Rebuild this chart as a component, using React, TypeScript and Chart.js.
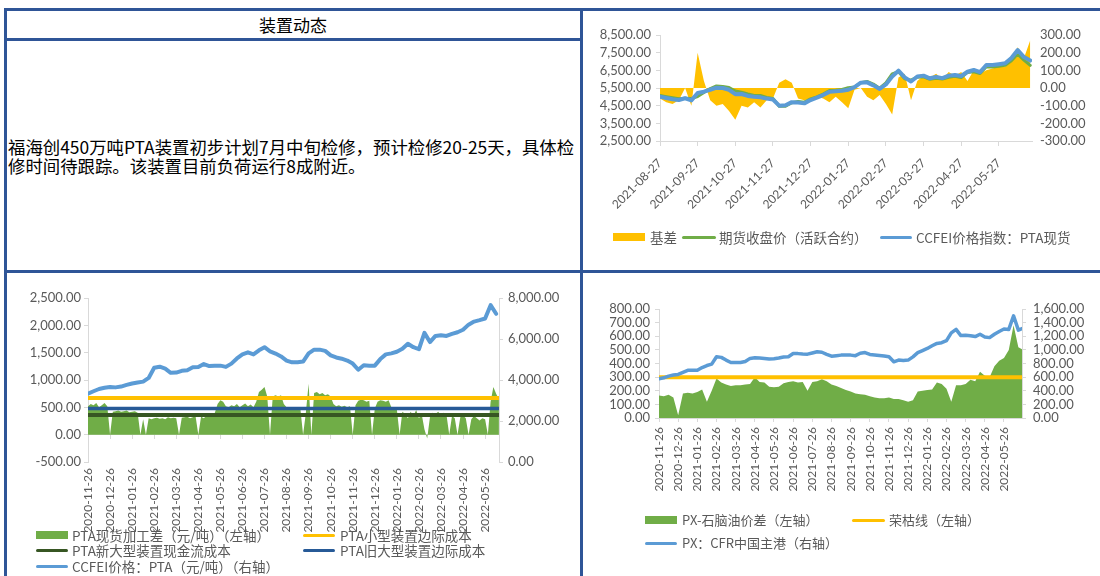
import React, { useEffect, useRef } from "react";
import { Chart, registerables } from "chart.js";

Chart.register(...registerables);

const NUM_FONT = "Lato, 'Noto Sans CJK SC', sans-serif";
const CJK_FONT = "'Noto Sans CJK SC', 'Noto Sans', sans-serif";
const BORDER_BLUE = "#2F5597";
const TICK_COLOR = "#595959";
const AXIS_COLOR = "#D9D9D9";
const C_BLUE = "#5B9BD5";
const C_GREEN = "#70AD47";
const C_YELLOW = "#FFC000";
const C_DKGREEN = "#375623";
const C_DKBLUE = "#275A97";

// ---------- Top-right chart: 基差 ----------
const trMonthLabels = [
  "2021-08-27", "2021-09-27", "2021-10-27", "2021-11-27", "2021-12-27",
  "2022-01-27", "2022-02-27", "2022-03-27", "2022-04-27", "2022-05-27",
];
const trPerMonth = 6;
const trMaxMonth = 9.88;
const trSpot = [
  5010, 4930, 4860, 4820, 4920, 4800, 5220, 5290, 5400, 5520,
  5500, 5400, 5150, 5160, 5050, 5000, 4970, 4900, 4850, 4500,
  4520, 4700, 4680, 4630, 4820, 4950, 5100, 5280, 5320, 5340,
  5400, 5550, 5800, 5820, 5650, 5450, 5700, 6150, 6480, 6100,
  5870, 6150, 6200, 6050, 6130, 6060, 6200, 6240, 6180, 6420,
  6520, 6400, 6800, 6800, 6850, 6900, 7200, 7650, 7250, 7050,
];
const trFutures = [
  5070, 5010, 4950, 4890, 4920, 4900, 5020, 5250, 5470, 5620,
  5590, 5530, 5330, 5260, 5160, 5080, 5080, 4970, 4910, 4470,
  4470, 4670, 4740, 4700, 4880, 5000, 5160, 5360, 5370, 5420,
  5515, 5560, 5800, 5870, 5720, 5490, 5790, 6300, 6420, 6020,
  5940, 6110, 6130, 5990, 6050, 6010, 6110, 6170, 6090, 6380,
  6420, 6320, 6700, 6690, 6730, 6780, 7040, 7420, 7080, 6780,
];
const trBasis = [
  -60, -80, -90, -70, 0, -100, 200, 40, -70, -100,
  -90, -130, -180, -100, -110, -80, -110, -70, -60, 30,
  50, 30, -60, -70, -60, -50, -60, -80, -50, -80,
  -115, -10, 0, -50, -70, -40, -90, -150, 60, 80,
  -70, 40, 70, 60, 80, 50, 90, 70, 90, 40,
  100, 80, 100, 110, 120, 120, 160, 230, 170, 270,
];

// ---------- Bottom-left chart: PTA 加工差 ----------
const blMonthLabels = [
  "2020-11-26", "2020-12-26", "2021-01-26", "2021-02-26", "2021-03-26",
  "2021-04-26", "2021-05-26", "2021-06-26", "2021-07-26", "2021-08-26",
  "2021-09-26", "2021-10-26", "2021-11-26", "2021-12-26", "2022-01-26",
  "2022-02-26", "2022-03-26", "2022-04-26", "2022-05-26",
];
const blSpreadPerMonth = 8;
const blPricePerMonth = 4;
const blMaxMonth = 18.63;
const blSpread = [
  520, 560, 540, 580, 500, 540, 580, 520, 0, 420,
  430, 440, 420, 430, 440, 410, 420, 430, 400, 0,
  280, 0, 300, 280, 300, 310, 290, 300, 280, 320,
  300, 310, 300, 0, 310, 320, 330, 300, 320, 340,
  0, 330, 300, 350, 330, 360, 400, 560, 630, 600,
  520, 500, 540, 520, 560, 500, 540, 570, 520, 550,
  500, 600, 780, 820, 870, 700, 0, 700, 720, 700,
  720, 560, 500, 480, 470, 480, 460, 480, 0, 400,
  930, 0, 760, 780, 740, 760, 720, 740, 700, 560,
  520, 540, 510, 530, 500, 520, 0, 540, 620, 640,
  630, 600, 620, 0, 480, 600, 630, 620, 600, 630,
  500, 480, 460, 0, 420, 380, 300, 420, 340, 450,
  300, 380, 100, -70, 320, 400, 380, 420, 350, 400,
  360, 0, 340, 300, 0, 320, 350, 300, 0, 280,
  340, 300, 260, 300, 280, 0, 600, 870, 750, 650,
];
const blPrice = [
  3337, 3450, 3560, 3620, 3660, 3640, 3680, 3760, 3830, 3880,
  3920, 4100, 4600, 4650, 4550, 4350, 4360, 4450, 4480, 4620,
  4630, 4780, 4680, 4700, 4700, 4640, 4800, 5050, 5250, 5350,
  5250, 5450, 5600, 5400, 5290, 5150, 4950, 4860, 4870, 4900,
  5300, 5480, 5480, 5420, 5200, 5100, 5040, 4950, 4800, 4500,
  4720, 4700, 4700, 5020, 5250, 5300, 5380, 5520, 5770, 5600,
  5500, 6300, 5850, 6150, 6180, 6150, 6250, 6330, 6450, 6700,
  6850, 6920, 7000, 7650, 7230,
];
const blSmallCost = 670;
const blOldLargeCost = 480;
const blNewLargeCost = 360;

// ---------- Bottom-right chart: PX ----------
const brMonthLabels = blMonthLabels;
const brPerMonth = 4;
const brMaxMonth = 18.94;
const brPx = [
  575, 590, 615, 630, 640, 670, 700, 700, 700, 740,
  770, 790, 900, 890, 850, 815, 815, 815, 830, 875,
  884, 880, 874, 866, 870, 880, 895, 900, 947, 945,
  940, 937, 955, 972, 965, 935, 908, 915, 923, 923,
  923, 915, 950, 960, 933, 925, 918, 910, 898, 825,
  850, 845, 850, 898, 960, 990, 1021, 1060, 1095, 1105,
  1135, 1250, 1300, 1210, 1215, 1208, 1195, 1230, 1190, 1180,
  1230, 1270, 1306, 1300, 1500, 1290, 1320,
];
const brSpread = [
  165, 160, 170, 150, 20, 180, 185, 180, 190, 210,
  120, 200, 290, 260, 245, 235, 240, 240, 245, 250,
  300, 265, 260, 230, 225, 230, 255, 265, 270, 260,
  265, 200, 265, 270, 285, 270, 245, 235, 220, 205,
  195, 180, 175, 170, 160, 150, 145, 145, 150, 140,
  140, 130, 120, 130, 195, 200, 205, 210, 260, 250,
  215, 120, 240, 240, 250, 280, 270, 340, 310, 300,
  380, 420, 440, 500, 680, 520, 500,
];
const brBoomBust = 300;

// ---------- helpers ----------
const fmt2 = (v: any) =>
  Number(v).toLocaleString("en-US", { minimumFractionDigits: 2, maximumFractionDigits: 2 });
const toXY = (values: number[], perMonth: number) =>
  values.map((y, i) => ({ x: i / perMonth, y }));
const flat = (value: number, max: number) => [
  { x: 0, y: value },
  { x: max, y: value },
];

function monthAxis(labels: string[], max: number, extra: any) {
  return {
    type: "linear",
    min: 0,
    max,
    afterBuildTicks: (s: any) => {
      s.ticks = labels.map((_, i) => ({ value: i }));
    },
    ...extra,
    ticks: {
      autoSkip: false,
      font: { family: NUM_FONT, size: 12 },
      color: TICK_COLOR,
      callback: (v: any) => labels[Math.round(v)] ?? "",
      ...(extra.ticks || {}),
    },
  };
}

function yAxis(position: string, min: number, max: number, step: number, width: number, opts: any) {
  return {
    position,
    min,
    max,
    ticks: {
      stepSize: step,
      autoSkip: false,
      padding: opts.padding,
      callback: fmt2,
      font: { family: NUM_FONT, size: 13 },
      color: TICK_COLOR,
    },
    grid: {
      display: opts.ticks,
      drawOnChartArea: false,
      drawTicks: opts.ticks,
      tickLength: 4,
      color: AXIS_COLOR,
    },
    border: { display: opts.border, color: AXIS_COLOR },
    afterFit: (s: any) => {
      s.width = width;
    },
  };
}

const baseOptions = (padTop: number) => ({
  animation: false,
  responsive: true,
  maintainAspectRatio: false,
  layout: { padding: { top: padTop, left: 0, right: 0, bottom: 0 } },
  elements: {
    point: { radius: 0, hoverRadius: 0 },
    line: { tension: 0, borderJoinStyle: "round", borderCapStyle: "round" },
  },
  plugins: { legend: { display: false }, tooltip: { enabled: false } },
});

function trConfig(): any {
  return {
    type: "line",
    data: {
      datasets: [
        { label: "CCFEI价格指数：PTA现货", data: toXY(trSpot, trPerMonth), xAxisID: "x", yAxisID: "y", borderColor: C_BLUE, borderWidth: 4, order: 0 },
        { label: "期货收盘价（活跃合约）", data: toXY(trFutures, trPerMonth), xAxisID: "x", yAxisID: "y", borderColor: C_GREEN, borderWidth: 3, order: 1 },
        { label: "基差", data: toXY(trBasis, trPerMonth), xAxisID: "x", yAxisID: "y1", borderColor: "rgba(0,0,0,0)", borderWidth: 0, backgroundColor: C_YELLOW, fill: "origin", order: 2 },
      ],
    },
    options: {
      ...baseOptions(24),
      scales: {
        x: monthAxis(trMonthLabels, trMaxMonth, {
          position: "bottom",
          grid: { drawOnChartArea: false, drawTicks: true, tickLength: 5, color: AXIS_COLOR },
          border: { display: true, color: AXIS_COLOR },
          ticks: { minRotation: 45, maxRotation: 45, padding: 10 },
          afterFit: (s: any) => { s.height = 127; },
        }),
        y: yAxis("left", 2500, 8500, 1000, 77, { padding: 5, ticks: true, border: true }),
        y1: yAxis("right", -300, 300, 100, 68, { padding: 8, ticks: false, border: false }),
      },
    },
  };
}

function blConfig(): any {
  return {
    type: "line",
    data: {
      datasets: [
        { label: "CCFEI价格：PTA（元/吨）（右轴）", data: toXY(blPrice, blPricePerMonth), xAxisID: "x", yAxisID: "y1", borderColor: C_BLUE, borderWidth: 4, order: 0 },
        { label: "PTA小型装置边际成本", data: flat(blSmallCost, blMaxMonth), xAxisID: "x", yAxisID: "y", borderColor: C_YELLOW, borderWidth: 4, borderCapStyle: "butt", order: 1 },
        { label: "PTA旧大型装置边际成本", data: flat(blOldLargeCost, blMaxMonth), xAxisID: "x", yAxisID: "y", borderColor: C_DKBLUE, borderWidth: 3.5, borderCapStyle: "butt", order: 2 },
        { label: "PTA新大型装置现金流成本", data: flat(blNewLargeCost, blMaxMonth), xAxisID: "x", yAxisID: "y", borderColor: C_DKGREEN, borderWidth: 4, borderCapStyle: "butt", order: 3 },
        { label: "PTA现货加工差（元/吨）（左轴）", data: toXY(blSpread, blSpreadPerMonth), xAxisID: "x", yAxisID: "y", borderColor: "rgba(0,0,0,0)", borderWidth: 0, backgroundColor: C_GREEN, fill: "origin", order: 4 },
      ],
    },
    options: {
      ...baseOptions(26),
      scales: {
        x: monthAxis(blMonthLabels, blMaxMonth, {
          position: "bottom",
          grid: { display: false, drawTicks: false },
          border: { display: false },
          ticks: { minRotation: 90, maxRotation: 90, padding: 6 },
          afterFit: (s: any) => { s.height = 114; },
        }),
        x2: monthAxis(blMonthLabels, blMaxMonth, {
          position: { y: 0 },
          grid: { drawOnChartArea: false, drawTicks: true, tickLength: 4, color: AXIS_COLOR },
          border: { display: true, color: AXIS_COLOR },
          ticks: { display: false },
        }),
        y: yAxis("left", -500, 2500, 500, 81, { padding: 3, ticks: true, border: true }),
        y1: yAxis("right", 0, 8000, 2000, 81, { padding: 5, ticks: true, border: true }),
      },
    },
  };
}

function brConfig(): any {
  return {
    type: "line",
    data: {
      datasets: [
        { label: "PX：CFR中国主港（右轴）", data: toXY(brPx, brPerMonth), xAxisID: "x", yAxisID: "y1", borderColor: C_BLUE, borderWidth: 3.5, order: 0 },
        { label: "荣枯线（左轴）", data: flat(brBoomBust, brMaxMonth), xAxisID: "x", yAxisID: "y", borderColor: C_YELLOW, borderWidth: 4, borderCapStyle: "butt", order: 1 },
        { label: "PX-石脑油价差（左轴）", data: toXY(brSpread, brPerMonth), xAxisID: "x", yAxisID: "y", borderColor: "rgba(0,0,0,0)", borderWidth: 0, backgroundColor: C_GREEN, fill: "origin", order: 2 },
      ],
    },
    options: {
      ...baseOptions(37),
      scales: {
        x: monthAxis(brMonthLabels, brMaxMonth, {
          position: "bottom",
          grid: { drawOnChartArea: false, drawTicks: true, tickLength: 4, color: AXIS_COLOR },
          border: { display: true, color: AXIS_COLOR },
          ticks: { minRotation: 90, maxRotation: 90, padding: 5 },
          afterFit: (s: any) => { s.height = 158; },
        }),
        y: yAxis("left", 0, 800, 100, 76, { padding: 5, ticks: true, border: true }),
        y1: yAxis("right", 0, 1600, 200, 78, { padding: 7, ticks: true, border: true }),
      },
    },
  };
}

function ChartBox(props: { left: number; top: number; width: number; height: number; config: () => any }) {
  const ref = useRef<HTMLCanvasElement>(null);
  useEffect(() => {
    const chart = new Chart(ref.current as HTMLCanvasElement, props.config());
    return () => chart.destroy();
  }, []);
  return (
    <div style={{ position: "absolute", left: props.left, top: props.top, width: props.width, height: props.height }}>
      <canvas ref={ref} />
    </div>
  );
}

type LegendItem = { kind: "box" | "line"; color: string; x: number; y: number; w: number; text: string; tx: number };

function Legend({ items, size }: { items: LegendItem[]; size: number }) {
  return (
    <>
      {items.map((it, i) => (
        <React.Fragment key={i}>
          <div
            style={{
              position: "absolute",
              left: it.x,
              top: it.kind === "box" ? it.y - 4 : it.y - 1.5,
              width: it.w,
              height: it.kind === "box" ? 8 : 3,
              background: it.color,
              borderRadius: it.kind === "line" ? 1.5 : 0,
            }}
          />
          <div
            style={{
              position: "absolute",
              left: it.tx,
              top: it.y - 10,
              height: 20,
              lineHeight: "20px",
              fontFamily: CJK_FONT,
              fontSize: size,
              color: TICK_COLOR,
              whiteSpace: "nowrap",
            }}
          >
            {it.text}
          </div>
        </React.Fragment>
      ))}
    </>
  );
}

const trLegend: LegendItem[] = [
  { kind: "box", color: C_YELLOW, x: 613, y: 237, w: 32, text: "基差", tx: 650 },
  { kind: "line", color: C_GREEN, x: 682, y: 237, w: 34, text: "期货收盘价（活跃合约）", tx: 719 },
  { kind: "line", color: C_BLUE, x: 880, y: 237, w: 32, text: "CCFEI价格指数：PTA现货", tx: 916 },
];
const blLegend: LegendItem[] = [
  { kind: "box", color: C_GREEN, x: 36, y: 535, w: 32, text: "PTA现货加工差（元/吨）（左轴）", tx: 72 },
  { kind: "line", color: C_YELLOW, x: 303, y: 535, w: 32, text: "PTA小型装置边际成本", tx: 340 },
  { kind: "line", color: C_DKGREEN, x: 36, y: 550, w: 32, text: "PTA新大型装置现金流成本", tx: 72 },
  { kind: "line", color: C_DKBLUE, x: 303, y: 550, w: 32, text: "PTA旧大型装置边际成本", tx: 340 },
  { kind: "line", color: C_BLUE, x: 36, y: 566, w: 32, text: "CCFEI价格：PTA（元/吨）（右轴）", tx: 72 },
];
const brLegend: LegendItem[] = [
  { kind: "box", color: C_GREEN, x: 645, y: 520, w: 32, text: "PX-石脑油价差（左轴）", tx: 682 },
  { kind: "line", color: C_YELLOW, x: 852, y: 520, w: 33, text: "荣枯线（左轴）", tx: 889 },
  { kind: "line", color: C_BLUE, x: 645, y: 543, w: 32, text: "PX：CFR中国主港（右轴）", tx: 682 },
];

const line = (left: number, top: number, width: number, height: number) => (
  <div style={{ position: "absolute", left, top, width, height, background: BORDER_BLUE }} />
);

export default function App() {
  return (
    <div style={{ position: "absolute", left: 0, top: 0, width: 1100, height: 576, background: "#fff", overflow: "hidden" }}>
      <div
        style={{
          position: "absolute", left: 7, top: 11, width: 572, height: 27,
          display: "flex", alignItems: "center", justifyContent: "center",
          fontFamily: CJK_FONT, fontSize: 17, color: "#000",
        }}
      >
        装置动态
      </div>
      <div
        style={{
          position: "absolute", left: 8, top: 137, fontFamily: CJK_FONT, fontSize: 17.4,
          lineHeight: "19px", color: "#000", whiteSpace: "nowrap",
        }}
      >
        福海创450万吨PTA装置初步计划7月中旬检修，预计检修20-25天，具体检
        <br />
        修时间待跟踪。该装置目前负荷运行8成附近。
      </div>

      <ChartBox left={583} top={11} width={517} height={257} config={trConfig} />
      <ChartBox left={7} top={272} width={573} height={304} config={blConfig} />
      <ChartBox left={583} top={272} width={517} height={304} config={brConfig} />

      <Legend items={trLegend} size={13.5} />
      <Legend items={blLegend} size={13.5} />
      <Legend items={brLegend} size={13} />

      {line(4, 8, 1096, 3)}
      {line(4, 8, 3, 568)}
      {line(4, 38, 578, 3)}
      {line(580, 8, 3, 568)}
      {line(4, 270, 1096, 3)}
    </div>
  );
}
